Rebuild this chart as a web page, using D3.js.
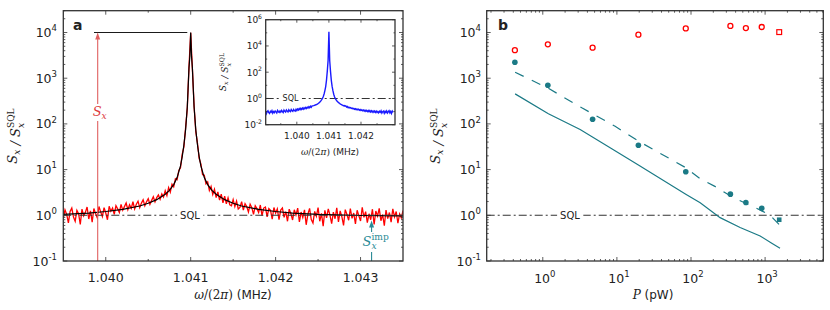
<!DOCTYPE html>
<html>
  <head>
    <meta charset="utf-8">
    <title>Spectrum and imprecision vs power</title>
    <script src="https://cdn.jsdelivr.net/npm/d3@7"></script>
    <style>
      body { margin: 0; background: #fff; }
      text { font-family: "DejaVu Sans", sans-serif; fill: #222; }
      .mi { font-family: "DejaVu Serif", serif; font-style: italic; }
      .mr { font-family: "DejaVu Serif", serif; }
    </style>
  </head>
  <body>
    <svg id="chart" width="830" height="310"></svg>
    <script>
      // ---- panel a : measured spectrum (uniform grid) ----
      const specStart = 1.0395, specStep = 0.00002;   // MHz
      const specS = [
        0.86, 1.32, 1.05, 0.68, 1.21, 1.44, 0.92, 0.74, 1.28, 1.08, 0.63, 1.37, 0.97, 1.16, 1.52,
        0.83, 1.25, 0.71, 1.41, 1.09, 0.88, 1.56, 1.19, 0.94, 1.47, 1.12, 0.80, 1.58, 1.23, 1.45,
        1.05, 1.62, 1.38, 1.15, 1.74, 1.29, 1.55, 1.86, 1.33, 1.70, 1.42, 1.98, 1.38, 1.75, 2.04,
        1.47, 1.85, 2.18, 1.62, 1.97, 2.30, 1.74, 2.12, 2.55, 1.96, 2.44, 2.78, 2.25, 2.95, 2.52,
        3.45, 2.70, 4.05, 3.20, 4.80, 4.20, 6.30, 6.00, 9.60, 11.0, 21.5, 31.5, 82, 220, 1750, 9800,
        1600, 250, 68, 38, 17.5, 13.4, 7.7, 7.6, 4.9, 5.4, 3.5, 4.3, 2.85, 3.7, 2.45, 3.25, 2.15, 2.9, 1.88, 2.62,
        1.78, 2.42, 1.70, 1.62, 2.20, 1.55, 2.05, 1.38, 1.49, 1.98, 1.30, 1.80, 1.55, 1.18, 1.75,
        1.47, 1.05, 1.62, 1.40, 1.15, 1.68, 0.98, 1.44, 1.52, 0.92, 1.40, 1.28, 0.82, 1.48, 1.12,
        1.38, 0.80, 1.30, 1.45, 0.90, 1.20, 0.74, 1.36, 1.08, 0.79, 1.32, 1.02, 1.43, 0.72, 1.18,
        0.90, 1.32, 0.62, 1.06, 1.42, 0.81, 0.68, 1.22, 0.95, 1.48, 0.74, 1.10, 0.58, 1.28, 0.88,
        1.38, 1.01, 0.66, 1.17, 0.84, 1.45, 0.72, 1.25, 0.93, 0.60, 1.33, 1.04, 0.78, 1.40, 0.86,
        1.12, 0.65, 1.29, 0.98, 0.75, 1.50, 0.90, 1.20, 0.69, 1.08, 0.80, 1.36, 0.63, 1.24, 0.96,
        1.42, 0.76, 1.04, 0.59, 1.30, 0.85, 1.15, 0.71, 1.38, 0.92, 1.21, 0.67, 1.07, 0.88, 1.27
      ];
      // fitted line
      const fitFreq = [1.0395, 1.0398, 1.0400, 1.0402, 1.0404, 1.0405, 1.0406, 1.0407, 1.04075, 1.0408,
        1.04084, 1.04088, 1.0409, 1.04092, 1.04094, 1.04096, 1.04098, 1.04099, 1.041, 1.04101,
        1.04102, 1.04104, 1.04106, 1.04108, 1.0411, 1.04112, 1.04116, 1.0412, 1.04125, 1.0413,
        1.0414, 1.0415, 1.0416, 1.0418, 1.0420, 1.0422, 1.0425, 1.0430, 1.0435];
      const fitS = [1.05, 1.12, 1.21, 1.35, 1.6, 1.83, 2.2, 2.9, 3.5, 4.7,
        6.7, 12, 19, 34.6, 75, 234, 1680, 3000, 10000, 3000,
        1680, 234, 75, 34.6, 19, 12, 6.7, 4.7, 3.5, 2.9,
        2.2, 1.83, 1.6, 1.35, 1.21, 1.12, 1.05, 0.99, 0.97];
      const peakLevel = 1e4;
      const arrowFreqTotal = 1.039905, arrowFreqImp = 1.04313, impLevel = 0.77;

      // ---- inset ----
      const insetStart = 1.039, insetStep = 0.000025;
      const insetS = [
        0.075, 0.108, 0.070, 0.099, 0.115, 0.083, 0.072, 0.104, 0.088, 0.118, 0.076, 0.101, 0.084, 0.112, 0.095, 0.078, 0.121, 0.097, 0.086, 0.110,
        0.090, 0.124, 0.102, 0.085, 0.129, 0.104, 0.093, 0.133, 0.108, 0.094, 0.137, 0.111, 0.099, 0.142, 0.116, 0.103, 0.146, 0.120, 0.107, 0.150,
        0.118, 0.158, 0.131, 0.168, 0.139, 0.176, 0.144, 0.185, 0.153, 0.194, 0.162, 0.207, 0.173, 0.219, 0.184, 0.236, 0.198, 0.254, 0.215, 0.272,
        0.27, 0.28, 0.30, 0.32, 0.33, 0.36, 0.39, 0.43, 0.48, 0.55, 0.65, 0.80, 1.0, 1.4, 2.2, 4.0, 8.0, 25, 120, 800,
        120000,
        780, 115, 24, 8.3, 3.9, 2.1, 1.35, 0.98, 0.79, 0.63, 0.56, 0.47, 0.44, 0.38, 0.36, 0.32, 0.31, 0.28, 0.29, 0.26,
        0.27, 0.218, 0.24, 0.198, 0.218, 0.188, 0.198, 0.172, 0.184, 0.162, 0.174, 0.150, 0.166, 0.140, 0.157, 0.134, 0.150, 0.126, 0.144, 0.122,
        0.138, 0.117, 0.133, 0.110, 0.128, 0.105, 0.124, 0.100, 0.120, 0.097, 0.118, 0.094, 0.114, 0.091, 0.112, 0.089, 0.110, 0.086, 0.107, 0.084,
        0.102, 0.081, 0.106, 0.088, 0.114, 0.077, 0.099, 0.110, 0.074, 0.104, 0.083, 0.112, 0.078, 0.097, 0.116, 0.080, 0.103, 0.072, 0.109, 0.086
      ];

      // ---- panel b ----
      const power   = [0.42, 1.17, 4.7, 19.5, 85, 340, 550, 900];      // pW
      const totalS  = [4100, 5500, 4650, 8950, 12300, 13900, 12500, 13200];
      const impS    = [2230, 700, 126, 34, 9, 2.9, 1.9, 1.42];
      const lastP = 1550, lastTotal = 10200, lastImp = 0.8;            // square markers
      const dashP = [0.423, 1.19, 3.36, 9.46, 19.5, 85, 133, 210, 373, 733, 1000, 1230, 1590];
      const dashS = [1350, 600, 225, 89, 42, 11, 6.3, 4.3, 2.43, 1.47, 1.15, 0.92, 0.6];
      const solidP = [0.423, 1.19, 3.19, 8.1, 19.5, 85, 133, 247, 460, 857, 1230, 1590];
      const solidS = [454, 166, 75.5, 30, 12.6, 2.9, 1.89, 0.89, 0.54, 0.353, 0.245, 0.19];

      // tick labels
      const yExpMain = [-1, 0, 1, 2, 3, 4];
      const xTicksA = [1.040, 1.041, 1.042, 1.043];
      const yExpInset = [-2, 0, 2, 4, 6];
      const xTicksInset = [1.040, 1.041, 1.042];
      const xExpB = [0, 1, 2, 3];

      const teal = "#1b7a86";
      const svg = d3.select("#chart");

      const xA = d3.scaleLinear().domain([1.0395, 1.0435]).range([63.3, 403]);
      const yA = d3.scaleLog().domain([0.1, 3e4]).range([261, 10.7]);
      const xI = d3.scaleLinear().domain([1.03903, 1.04306]).range([265.7, 395]);
      const yI = d3.scaleLog().domain([1e-2, 1e6]).range([124.7, 19.7]);
      const xB = d3.scaleLog().domain([0.175, 6100]).range([486.7, 823.3]);
      const yB = d3.scaleLog().domain([0.1, 3e4]).range([261, 10.7]);

      function logMinors(lo, hi) {
        const out = [];
        for (let d = lo; d <= hi; d++)
          for (let k = 2; k <= 9; k++) out.push(k * Math.pow(10, d));
        return out;
      }

      // box with inward ticks on all four sides
      function frame(g, x, y, xMaj, xMin, yMaj, yMin, L) {
        const [x0, x1] = x.range(), [y0, y1] = y.range();
        const inX = v => v >= x.domain()[0] && v <= x.domain()[1];
        const inY = v => v >= y.domain()[0] && v <= y.domain()[1];
        const tk = g.append("g").attr("stroke", "#333").attr("stroke-width", 0.8);
        [[xMaj, L], [xMin, L / 2]].forEach(([vals, l]) => vals.filter(inX).forEach(v => {
          tk.append("line").attr("x1", x(v)).attr("x2", x(v)).attr("y1", y0).attr("y2", y0 - l);
          tk.append("line").attr("x1", x(v)).attr("x2", x(v)).attr("y1", y1).attr("y2", y1 + l);
        }));
        [[yMaj, L], [yMin, L / 2]].forEach(([vals, l]) => vals.filter(inY).forEach(v => {
          tk.append("line").attr("y1", y(v)).attr("y2", y(v)).attr("x1", x0).attr("x2", x0 + l);
          tk.append("line").attr("y1", y(v)).attr("y2", y(v)).attr("x1", x1).attr("x2", x1 - l);
        }));
        g.append("rect").attr("x", x0).attr("y", y1).attr("width", x1 - x0).attr("height", y0 - y1)
          .attr("fill", "none").attr("stroke", "#333").attr("stroke-width", 1.3);
      }

      function powLabel(g, px, py, exp, size, anchor) {
        const t = g.append("text").attr("x", px).attr("y", py).attr("font-size", size)
          .attr("text-anchor", anchor);
        t.append("tspan").text("10");
        t.append("tspan").attr("font-size", size * 0.68).attr("dy", -size * 0.45).text(exp);
        return t;
      }

      // S_x / S_x^SQL style label
      function sLabel(t, size, sup) {
        t.append("tspan").attr("class", "mi").text("S");
        t.append("tspan").attr("class", "mi").attr("font-size", size * 0.7).attr("dy", size * 0.25).text("x");
        if (sup) {
          t.append("tspan").attr("class", "mr").attr("font-size", size * 0.7)
            .attr("dx", -size * 0.4).attr("dy", -size * 0.75).text(sup);
          t.append("tspan").attr("dy", size * 0.5).text("");
        } else {
          t.append("tspan").attr("dy", -size * 0.25).text("");
        }
      }
      function yLabel(g, px, py, size) {
        const t = g.append("text").attr("font-size", size).attr("text-anchor", "middle")
          .attr("transform", `translate(${px},${py}) rotate(-90)`);
        sLabel(t, size);
        t.append("tspan").attr("class", "mi").text(" / ");
        sLabel(t, size, "SQL");
      }
      function omegaLabel(g, px, py, size) {
        const t = g.append("text").attr("x", px).attr("y", py).attr("font-size", size).attr("text-anchor", "middle");
        t.append("tspan").attr("class", "mi").text("ω");
        t.append("tspan").attr("class", "mr").text("/(2");
        t.append("tspan").attr("class", "mi").text("π");
        t.append("tspan").attr("class", "mr").text(")");
        t.append("tspan").text(" (MHz)");
      }
      function sqlLine(g, x, yv, xc, size) {
        const [x0, x1] = x.range();
        g.append("line").attr("x1", x0).attr("x2", x1).attr("y1", yv).attr("y2", yv)
          .attr("stroke", "#333").attr("stroke-width", 1.1).attr("stroke-dasharray", "8,3,2,3");
        const t = g.append("text").attr("x", xc).attr("y", yv).attr("dy", "0.36em")
          .attr("text-anchor", "middle").attr("font-size", size).text("SQL");
        const bb = t.node().getBBox();
        g.insert("rect", "text:last-of-type").attr("x", bb.x - 3).attr("y", yv - 2).attr("width", bb.width + 6)
          .attr("height", 4).attr("fill", "#fff");
      }
      function upArrow(g, px, yTip, yBase, color) {
        g.append("line").attr("x1", px).attr("x2", px).attr("y1", yBase).attr("y2", yTip + 5)
          .attr("stroke", color).attr("stroke-width", 1.1);
        g.append("path").attr("d", `M${px},${yTip} L${px - 2.5},${yTip + 7} L${px + 2.5},${yTip + 7} Z`)
          .attr("fill", color);
      }

      const defs = svg.append("defs");
      defs.append("clipPath").attr("id", "clipA").append("rect")
        .attr("x", 63.3).attr("y", 10.7).attr("width", 403 - 63.3).attr("height", 261 - 10.7);
      defs.append("clipPath").attr("id", "clipI").append("rect")
        .attr("x", 265.7).attr("y", 19.7).attr("width", 395 - 265.7).attr("height", 124.7 - 19.7);
      defs.append("clipPath").attr("id", "clipB").append("rect")
        .attr("x", 486.7).attr("y", 10.7).attr("width", 823.3 - 486.7).attr("height", 261 - 10.7);

      // ================= panel a =================
      const gA = svg.append("g");
      const specPts = specS.map((v, i) => [specStart + i * specStep, v]);
      const lineA = d3.line().x(d => xA(d[0])).y(d => yA(d[1]));
      const dataA = gA.append("g").attr("clip-path", "url(#clipA)");

      sqlLine(gA, xA, yA(1), 190, 10);

      dataA.append("path").datum(specPts).attr("d", lineA)
        .attr("fill", "none").attr("stroke", "#ff0000").attr("stroke-width", 1.3);
      dataA.append("path").datum(fitFreq.map((f, i) => [f, fitS[i]])).attr("d", lineA)
        .attr("fill", "none").attr("stroke", "#000").attr("stroke-width", 1.2);

      // peak marker and arrows
      gA.append("line").attr("x1", 94).attr("x2", xA(1.04096)).attr("y1", yA(peakLevel)).attr("y2", yA(peakLevel))
        .attr("stroke", "#000").attr("stroke-width", 0.9);
      upArrow(gA, xA(arrowFreqTotal), yA(peakLevel), yA(0.1), "#e06060");
      gA.append("rect").attr("x", xA(arrowFreqTotal) - 7).attr("y", 104).attr("width", 14).attr("height", 17).attr("fill", "#fff");
      const tS = gA.append("text").attr("x", xA(arrowFreqTotal) - 5).attr("y", 116).attr("font-size", 13)
        .style("fill", "#dd3b3b");
      sLabel(tS, 13);
      tS.selectAll("tspan").style("fill", "#dd3b3b");

      upArrow(gA, xA(arrowFreqImp), yA(impLevel), yA(0.1), "#2a8a96");
      gA.append("rect").attr("x", xA(arrowFreqImp) - 11).attr("y", 232).attr("width", 24).attr("height", 20).attr("fill", "#fff");
      const tI = gA.append("text").attr("x", xA(arrowFreqImp) - 9).attr("y", 246).attr("font-size", 13);
      sLabel(tI, 13, "imp");
      tI.selectAll("tspan").style("fill", "#2a8a96");

      frame(gA, xA, yA, xTicksA, [1.0405, 1.0415, 1.0425], yExpMain.map(e => Math.pow(10, e)), logMinors(-1, 4), 4);
      yExpMain.forEach(e => powLabel(gA, 57, yA(Math.pow(10, e)) + 4.5, e, 12.5, "end"));
      xTicksA.forEach(v => gA.append("text").attr("x", xA(v)).attr("y", 282).attr("font-size", 12.5)
        .attr("text-anchor", "middle").text(v.toFixed(3)));
      omegaLabel(gA, 233, 299, 12);
      yLabel(gA, 17, 136, 13);
      gA.append("text").attr("x", 73).attr("y", 30).attr("font-size", 14).attr("font-weight", "bold").text("a");

      // ================= inset =================
      const gI = svg.append("g");
      gI.append("rect").attr("x", 265.7).attr("y", 19.7).attr("width", 395 - 265.7).attr("height", 124.7 - 19.7)
        .attr("fill", "#fff");
      sqlLine(gI, xI, yI(1), 290.5, 8);
      const lineI = d3.line().x(d => xI(d[0])).y(d => yI(d[1]));
      gI.append("g").attr("clip-path", "url(#clipI)").append("path")
        .datum(insetS.map((v, i) => [insetStart + i * insetStep, v])).attr("d", lineI)
        .attr("fill", "none").attr("stroke", "#1a1aff").attr("stroke-width", 1.4);
      frame(gI, xI, yI, xTicksInset, [1.0395, 1.0405, 1.0415, 1.0425],
        yExpInset.map(e => Math.pow(10, e)), [1e-1, 1e1, 1e3, 1e5], 3);
      yExpInset.forEach(e => powLabel(gI, 262, yI(Math.pow(10, e)) + 3.3, e, 9, "end"));
      xTicksInset.forEach(v => gI.append("text").attr("x", xI(v)).attr("y", 138.5).attr("font-size", 9)
        .attr("text-anchor", "middle").text(v.toFixed(3)));
      omegaLabel(gI, 330, 155, 9);
      yLabel(gI, 226, 72, 9);

      // ================= panel b =================
      const gB = svg.append("g");
      sqlLine(gB, xB, yB(1), 570, 10);
      const dataB = gB.append("g").attr("clip-path", "url(#clipB)");
      const lineB = d3.line().x(d => xB(d[0])).y(d => yB(d[1]));
      dataB.append("path").datum(solidP.map((p, i) => [p, solidS[i]])).attr("d", lineB)
        .attr("fill", "none").attr("stroke", teal).attr("stroke-width", 1.2);
      dataB.append("path").datum(dashP.map((p, i) => [p, dashS[i]])).attr("d", lineB)
        .attr("fill", "none").attr("stroke", teal).attr("stroke-width", 1.2).attr("stroke-dasharray", "9.5,9");

      dataB.selectAll("circle.imp").data(power).join("circle").attr("class", "imp")
        .attr("cx", d => xB(d)).attr("cy", (d, i) => yB(impS[i])).attr("r", 2.8).attr("fill", teal);
      dataB.selectAll("circle.tot").data(power).join("circle").attr("class", "tot")
        .attr("cx", d => xB(d)).attr("cy", (d, i) => yB(totalS[i])).attr("r", 2.5)
        .attr("fill", "#fff").attr("stroke", "#ff0000").attr("stroke-width", 1.3);
      dataB.append("rect").attr("x", xB(lastP) - 2.3).attr("y", yB(lastImp) - 2.3).attr("width", 4.6).attr("height", 4.6)
        .attr("fill", teal);
      dataB.append("rect").attr("x", xB(lastP) - 2.4).attr("y", yB(lastTotal) - 2.4).attr("width", 4.8).attr("height", 4.8)
        .attr("fill", "#fff").attr("stroke", "#ff0000").attr("stroke-width", 1.2);

      frame(gB, xB, yB, xExpB.map(e => Math.pow(10, e)), logMinors(-1, 3), yExpMain.map(e => Math.pow(10, e)), logMinors(-1, 4), 4);
      yExpMain.forEach(e => powLabel(gB, 481, yB(Math.pow(10, e)) + 4.5, e, 12.5, "end"));
      xExpB.forEach(e => powLabel(gB, xB(Math.pow(10, e)) + 2, 283, e, 12.5, "middle"));
      const tP = gB.append("text").attr("x", 653).attr("y", 299).attr("font-size", 12).attr("text-anchor", "middle");
      tP.append("tspan").attr("class", "mi").text("P");
      tP.append("tspan").text(" (pW)");
      yLabel(gB, 440, 136, 13);
      gB.append("text").attr("x", 498).attr("y", 30).attr("font-size", 14).attr("font-weight", "bold").text("b");
    </script>
  </body>
</html>
